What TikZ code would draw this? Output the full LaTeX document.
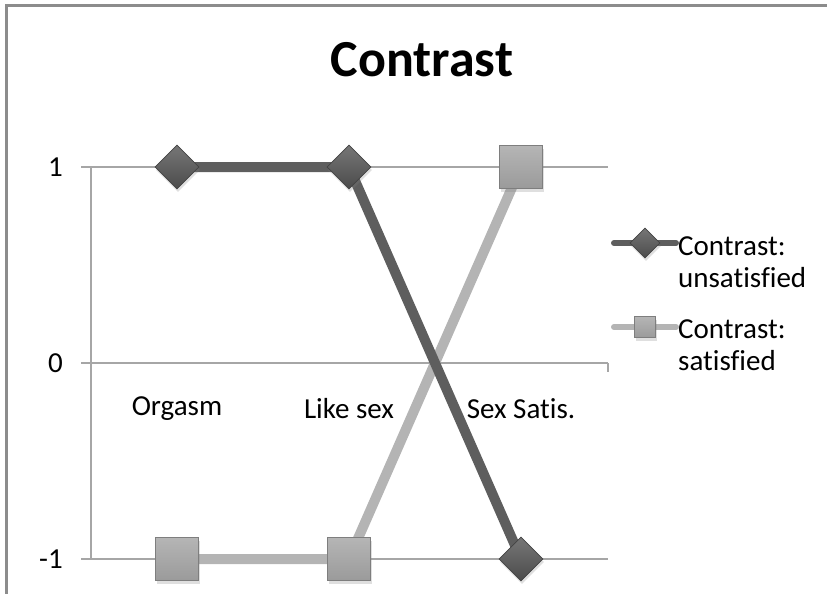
\documentclass[tikz,border=0pt]{standalone}
\usepackage{fontspec}
\setmainfont{Carlito}[Ligatures=NoCommon]
\usetikzlibrary{shapes.geometric,shadows,backgrounds}
\definecolor{unsatline}{HTML}{5E5E5E}
\definecolor{unsatfill}{HTML}{545454}
\definecolor{satline}{HTML}{B4B4B4}
\definecolor{satfill}{HTML}{A8A8A8}
\definecolor{gridgray}{HTML}{A6A6A6}
\definecolor{framegray}{HTML}{8C8C8C}
\newcommand\lblfont{\fontsize{29}{32}\selectfont}

\begin{document}
\begin{tikzpicture}[x=1pt,y=-1pt,
    every node/.style={inner sep=0pt},
    gridline/.style={gridgray,line width=1.5pt},
    unsatmark/.style={diamond,aspect=1,minimum width=44pt,minimum height=44pt,
        top color=unsatfill!80!white,bottom color=unsatfill!90!black,
        draw=unsatfill!80!black,line width=0.6pt,
        drop shadow={opacity=0.25,shadow xshift=1pt,shadow yshift=-3pt}},
    satmark/.style={rectangle,minimum size=43pt,
        top color=satfill!85!white,bottom color=satfill!92!black,
        draw=satfill!75!black,line width=0.6pt,
        drop shadow={opacity=0.25,shadow xshift=1pt,shadow yshift=-3pt}},
    unsatlink/.style={unsatline,line width=10pt},
    satlink/.style={satline,line width=10pt},
    ticklbl/.style={anchor=east,font=\lblfont},
    catlbl/.style={font=\lblfont},
    legendlbl/.style={anchor=west,align=left,font=\lblfont}]
    \useasboundingbox (0,0) rectangle (827,594);
    \draw [framegray,line width=3pt] (6,594) -- (6,6) -- (827,6);
    \node [font=\fontsize{52}{58}\selectfont\bfseries] (title) at (422,60) {Contrast};
    \node [ticklbl] (t1) at (63,167) {1};
    \node [ticklbl] (t0) at (63,363) {0};
    \node [ticklbl] (tm1) at (63,559) {-1};
    \node [catlbl] (c1) at (177,409) {Orgasm};
    \node [catlbl] (c2) at (349,409) {Like sex};
    \node [catlbl] (c3) at (521,409) {Sex Satis.};
    \node [unsatmark] (u1) at (177,167) {};
    \node [unsatmark] (u2) at (349,167) {};
    \node [satmark] (s1) at (177,559) {};
    \node [satmark] (s2) at (349,559) {};
    \node [satmark] (s3) at (521,167) {};
    \node [unsatmark] (u3) at (521,559) {};
    \begin{pgfonlayer}{background}
    \draw [gridline] (81,167) -- (608,167);
    \draw [gridline] (81,363) -- (608,363);
    \draw [gridline] (81,559) -- (608,559);
    \draw [gridline] (91,167) -- (91,559);
    \draw [gridline] (608,363) -- (608,372);
    \draw [satlink] (s1.center) -- (s2.center) -- (s3.center);
    \draw [unsatlink] (u1.center) -- (u2.center) -- (u3.center);
    \end{pgfonlayer}
    \coordinate (la1) at (614,243);
    \coordinate (la2) at (676,243);
    \coordinate (lb1) at (614,327);
    \coordinate (lb2) at (676,327);
    \draw [unsatline,line width=6pt,line cap=round] (la1) -- (la2);
    \draw [satline,line width=6pt,line cap=round] (lb1) -- (lb2);
    \node [unsatmark,minimum width=30pt,minimum height=30pt,drop shadow={opacity=0}] (lu) at (645,243) {};
    \node [satmark,minimum size=21pt,drop shadow={opacity=0}] (ls) at (645,327) {};
    \node [legendlbl] (lgu) at (678,262) {Contrast:\\unsatisfied};
    \node [legendlbl] (lgs) at (678,345) {Contrast:\\satisfied};
\end{tikzpicture}
\end{document}
